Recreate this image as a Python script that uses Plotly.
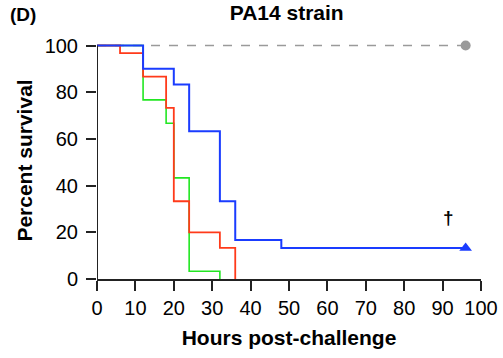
import plotly.graph_objects as go

# Data (Kaplan-Meier steps, percent survival)
blue_t = [0, 12, 20, 24, 32, 36, 48, 96]
blue_s = [100, 90, 83.3, 63.3, 33.3, 16.7, 13.3, 13.3]
red_t = [0, 6, 12, 18, 20, 24, 32, 36]
red_s = [100, 96.7, 86.7, 73.3, 33.3, 20, 13.3, 0]
green_t = [0, 12, 18, 20, 24, 32]
green_s = [100, 76.7, 66.7, 43.3, 3.3, 0]
gray_t = [0, 96]
gray_s = [100, 100]
x_ticks = list(range(0, 101, 10))
y_ticks = list(range(0, 101, 20))

FONT = "Arial, Liberation Sans, sans-serif"
BLUE = "#1a3cff"
RED = "#ff3a1a"
GREEN = "#22e622"
GRAY = "#9a9a9a"

fig = go.Figure()
fig.add_trace(go.Scatter(x=gray_t, y=gray_s, mode="lines", line=dict(color=GRAY, width=1.6, dash="dash"),
                         line_shape="hv", showlegend=False))
fig.add_trace(go.Scatter(x=green_t, y=green_s, mode="lines", line=dict(color=GREEN, width=1.6),
                         line_shape="hv", showlegend=False))
fig.add_trace(go.Scatter(x=red_t, y=red_s, mode="lines", line=dict(color=RED, width=1.8),
                         line_shape="hv", showlegend=False))
fig.add_trace(go.Scatter(x=blue_t, y=blue_s, mode="lines", line=dict(color=BLUE, width=2),
                         line_shape="hv", showlegend=False))
fig.add_trace(go.Scatter(x=[gray_t[-1]], y=[gray_s[-1]], mode="markers",
                         marker=dict(symbol="circle", size=10, color=GRAY), cliponaxis=False, showlegend=False))
fig.add_trace(go.Scatter(x=[blue_t[-1]], y=[blue_s[-1]], mode="markers",
                         marker=dict(symbol="triangle-up", size=11, color=BLUE), cliponaxis=False, showlegend=False))

fig.add_annotation(x=91.6, y=26.5, text="<b>†</b>", showarrow=False, xref="x", yref="y",
                   font=dict(family=FONT, size=19, color="black"))
fig.add_annotation(x=-0.232, y=1.118, text="<b>(D)</b>", showarrow=False, xref="paper", yref="paper",
                   xanchor="left", yanchor="middle",
                   font=dict(family=FONT, size=19, color="black"))

# y-axis line from 0 to 100 only
fig.add_shape(type="line", x0=0, x1=0, y0=0, y1=100, xref="x", yref="y",
              line=dict(color="#222222", width=2))

fig.update_layout(
    width=503, height=358,
    margin=dict(l=97, r=22, t=41.5, b=79, autoexpand=False),
    paper_bgcolor="white", plot_bgcolor="white",
    title=dict(text="<b>PA14 strain</b>", x=0.57, xanchor="center", y=0.966, yanchor="middle",
               font=dict(family=FONT, size=21, color="black")),
    font=dict(family=FONT, color="black"),
    xaxis=dict(range=[0, 100], tickvals=x_ticks, ticks="outside", ticklen=10, tickwidth=1.8,
               tickcolor="#222222", showline=True, linecolor="#222222", linewidth=2,
               showgrid=False, zeroline=False, tickfont=dict(size=20), automargin=False,
               title=dict(text="<b>Hours post-challenge</b>", font=dict(size=21), standoff=12)),
    yaxis=dict(range=[0, 101.5], tickvals=y_ticks, ticks="outside", ticklen=10, tickwidth=1.8,
               tickcolor="#222222", showline=False, showgrid=False, zeroline=False,
               tickfont=dict(size=20), automargin=False, ticklabelstandoff=4,
               title=dict(text="<b>Percent survival</b>", font=dict(size=21), standoff=6)),
)

fig.write_html("out.html")
